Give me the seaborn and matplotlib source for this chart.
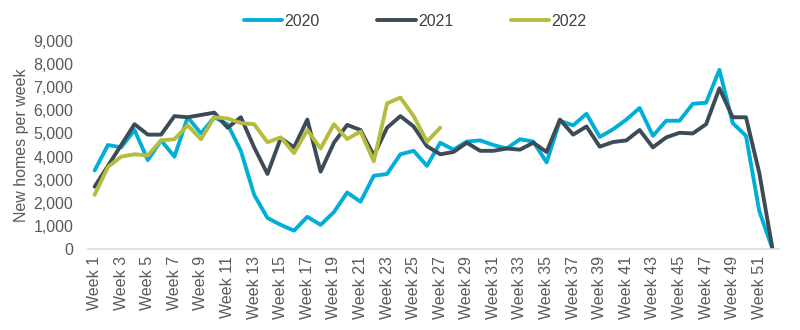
import numpy as np
import pandas as pd
import matplotlib
matplotlib.use("Agg")
import matplotlib.pyplot as plt
import seaborn as sns

weeks = [f"Week {i}" for i in range(1, 53)]

y2020 = [3400, 4500, 4400, 5150, 3850, 4700, 4000, 5700, 5000, 5700,
         5400, 4250, 2350, 1350, 1050, 800, 1400, 1050, 1600, 2450,
         2050, 3170, 3250, 4100, 4250, 3600, 4600, 4300, 4650, 4700,
         4500, 4350, 4750, 4650, 3750, 5550, 5350, 5850, 4850, 5180,
         5600, 6100, 4900, 5550, 5550, 6280, 6330, 7750, 5450, 4900,
         1650, 0]
y2021 = [2700, 3600, 4500, 5400, 4950, 4950, 5750, 5700, 5800, 5900,
         5250, 5700, 4400, 3250, 4800, 4400, 5600, 3350, 4600, 5370,
         5150, 4050, 5250, 5750, 5300, 4450, 4100, 4200, 4600, 4250,
         4250, 4350, 4300, 4600, 4200, 5600, 4950, 5300, 4430, 4630,
         4700, 5150, 4400, 4830, 5030, 5000, 5400, 6950, 5700, 5700,
         3300, 0]
y2022 = [2350, 3550, 4000, 4100, 4050, 4700, 4750, 5350, 4750, 5700,
         5650, 5450, 5400, 4620, 4830, 4150, 5150, 4350, 5400, 4760,
         5080, 3800, 6300, 6550, 5750, 4650, 5250]

series_names = ["2020", "2021", "2022"]
colors = ["#00AFD8", "#3D4B57", "#B5BC3E"]

rows = []
for name, vals in zip(series_names, [y2020, y2021, y2022]):
    for w, v in zip(weeks, vals):
        rows.append({"week": w, "value": v, "year": name})
df = pd.DataFrame(rows)

sns.set_theme(style="white")
plt.rcParams["font.family"] = ["Liberation Sans", "DejaVu Sans"]

fig = plt.figure(figsize=(8, 3.3), dpi=100)
ax = fig.add_axes([0.11, 0.245, 0.864, 0.631])

sns.lineplot(data=df, x="week", y="value", hue="year", palette=colors,
             hue_order=series_names, sort=False, linewidth=2.8, ax=ax,
             legend=True)

ax.set_xlim(-0.5, 51.5)
ax.set_ylim(0, 9000)
ax.set_yticks(np.arange(0, 9001, 1000))
ax.set_yticklabels([f"{v:,}" for v in range(0, 9001, 1000)])
ax.set_xticks(range(0, 52, 2))
ax.set_xticklabels([weeks[i] for i in range(0, 52, 2)], rotation=90)
ax.tick_params(axis="both", labelsize=11.5, colors="#595959", length=0)
ax.tick_params(axis="y", pad=10.5)
ax.tick_params(axis="x", pad=5)
ax.set_xlabel("")
ax.set_ylabel("New homes per week", fontsize=11.5, color="#595959")
ax.yaxis.set_label_coords(-0.085, 0.5)

for s in ["top", "right", "left"]:
    ax.spines[s].set_visible(False)
ax.spines["bottom"].set_color("#D9DEE3")
ax.spines["bottom"].set_linewidth(1.2)

handles, labels = ax.get_legend_handles_labels()
ax.legend(handles, labels, loc="center", bbox_to_anchor=(0.519, 0.936),
          bbox_transform=fig.transFigure, ncol=3, frameon=False,
          fontsize=11.5, handlelength=2.4, columnspacing=3.6, handletextpad=0.15,
          labelcolor="#404040")

fig.savefig("out.png", dpi=100)
